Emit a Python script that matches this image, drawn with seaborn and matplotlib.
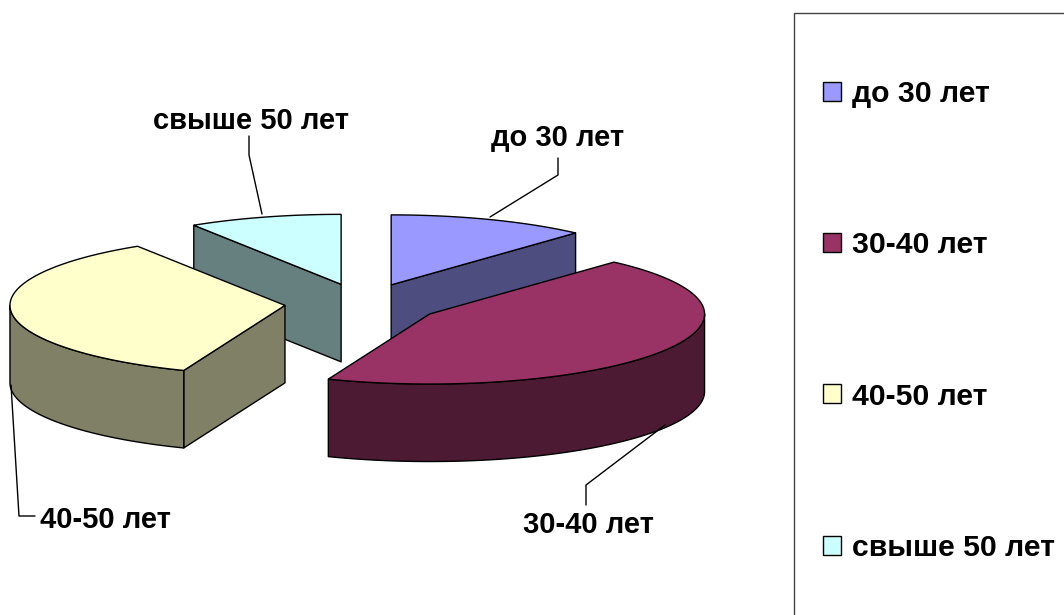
import numpy as np
import matplotlib
matplotlib.use('Agg')
import matplotlib.pyplot as plt
from matplotlib.patches import Polygon, Rectangle
import seaborn as sns

# Age groups and their shares
labels = ['до 30 лет', '30-40 лет', '40-50 лет', 'свыше 50 лет']
shares = [11.7, 44.3, 35, 9]
colors = ['#9999FF', '#993366', '#FFFFCC', '#CCFFFF']

sns.set_theme(style='white')
plt.rcParams['font.family'] = ['Liberation Sans', 'DejaVu Sans']

# Pie geometry in pixels
cx, cy = 363, 303.5
rx, ry = 275, 70
depth = 77.5
explode = 0.285

fig = plt.figure(figsize=(10.64, 6.15), dpi=100)
ax = fig.add_axes([0, 0, 1, 1])
ax.set_xlim(0, 1064)
ax.set_ylim(615, 0)
ax.axis('off')


def rim(x0, y0, a):
    return np.column_stack([x0 + rx * np.sin(a), y0 - ry * np.cos(a)])


def shade(col):
    return tuple(c * 0.5 for c in matplotlib.colors.to_rgb(col))


edges = np.cumsum([0] + shares) / sum(shares) * 2 * np.pi
slices = []
for i in range(len(shares)):
    a0, a1 = edges[i], edges[i + 1]
    mid = (a0 + a1) / 2
    x0 = cx + explode * rx * np.sin(mid)
    y0 = cy - explode * ry * np.cos(mid)
    slices.append((i, a0, a1, x0, y0))

# Back slices first, front ones over them
for i, a0, a1, x0, y0 in sorted(slices, key=lambda s: s[4]):
    side = shade(colors[i])
    down = np.array([0, depth])
    apex = np.array([x0, y0])
    kw = dict(facecolor=side, edgecolor='black', linewidth=1, joinstyle='round')
    for ang, visible in ((a0, np.sin(a0) < -1e-6), (a1, np.sin(a1) > 1e-6)):
        if visible:
            p = rim(x0, y0, np.array([ang]))[0]
            ax.add_patch(Polygon([apex, p, p + down, apex + down], **kw))
    lo, hi = max(a0, np.pi / 2), min(a1, 3 * np.pi / 2)
    if lo < hi:
        arc = rim(x0, y0, np.linspace(lo, hi, 80))
        ax.add_patch(Polygon(np.vstack([arc, arc[::-1] + down]), **kw))
    arc = rim(x0, y0, np.linspace(a0, a1, 120))
    ax.add_patch(Polygon(np.vstack([apex, arc]), facecolor=colors[i],
                         edgecolor='black', linewidth=1))

# Data labels with leader lines
label_size = 21
legend_size = 21.7
leaders = [
    ([490, 558, 558], [217, 175, 158], (558, 138)),
    ([665, 586, 586], [425, 485, 505], (588, 525)),
    ([11, 19, 35], [385, 516, 516], (105, 520)),
    ([262, 249, 249], [214, 155, 136], (251, 121)),
]
for name, (xs, ys, pos) in zip(labels, leaders):
    ax.plot(xs, ys, color='black', lw=1)
    ax.text(pos[0], pos[1], name, ha='center', va='center',
            fontsize=label_size, fontweight='bold', color='black')

# Legend frame runs off the canvas
ax.add_patch(Rectangle((794, 13), 400, 700, facecolor='white',
                       edgecolor='#444444', linewidth=1))
handles = [Rectangle((0, 0), 1, 1, facecolor=c, edgecolor='black', linewidth=1)
           for c in colors]
ax.legend(handles, labels, loc='upper left', bbox_to_anchor=(823 / 1064, 1 - 80 / 615),
          frameon=False, borderpad=0, borderaxespad=0, labelcolor='black',
          handlelength=0.6, handleheight=0.6, handletextpad=0.36,
          labelspacing=4.09, prop={'weight': 'bold', 'size': legend_size})

fig.savefig('out.png', dpi=100)
